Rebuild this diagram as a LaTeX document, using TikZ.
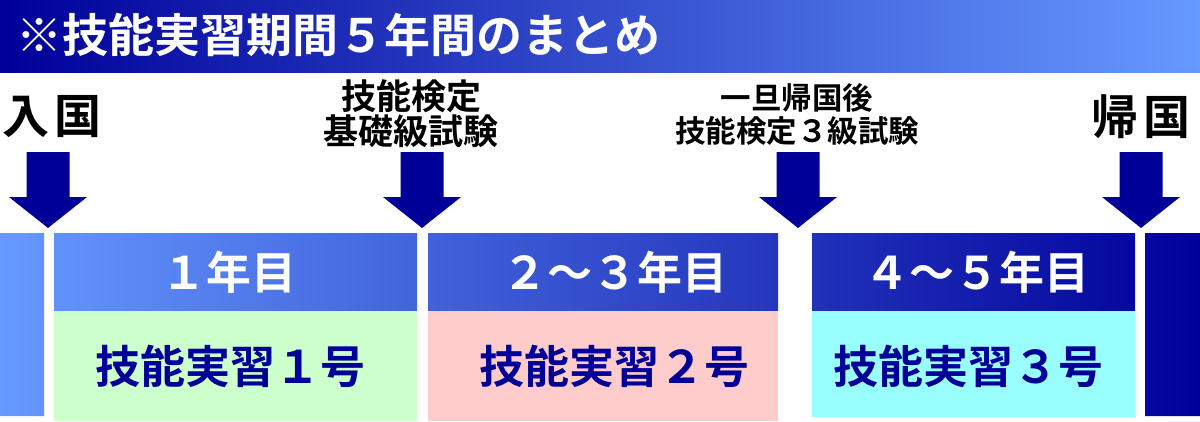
\documentclass[tikz,border=0pt]{standalone}
\usepackage{fontspec}
\newfontfamily\jp{Noto Sans CJK JP}[BoldFont=* Bold]
\usepackage{tikz}
\usetikzlibrary{positioning}
\usetikzlibrary{calc}
\definecolor{navy}{HTML}{000099}
\definecolor{skyb}{HTML}{6699FF}
\definecolor{bd_g}{HTML}{CCFFCC}
\definecolor{bd_r}{HTML}{FFCCCC}
\definecolor{bd_c}{HTML}{99FFFF}
\tikzset{
  jpnode/.style = {align=center, inner sep=0pt, text centered,
    font=\jp\bfseries},
  lbl_t/.style = {jpnode, white, anchor=west,
    font=\jp\bfseries\fontsize{46}{46}\selectfont},% titre
  lbl_p/.style = {jpnode, black,
    font=\jp\bfseries\fontsize{47}{47}\selectfont},% entree, retour
  lbl_e/.style = {jpnode, black,
    font=\jp\bfseries\fontsize{35}{35}\selectfont},% examen
  lbl_f/.style = {jpnode, black,
    font=\jp\bfseries\fontsize{30.5}{33}\selectfont},% examen, petit
  hd_txt/.style = {jpnode, white,
    font=\jp\bfseries\fontsize{45}{45}\selectfont},% annee
  bd_txt/.style = {jpnode, navy,
    font=\jp\bfseries\fontsize{45}{45}\selectfont},% stage
  pics/arw_d/.style = {code={
    \fill[navy] (-21.5,-76) -- (21.5,-76) -- (21.5,-31) -- (39,-31)
      -- (0,0) -- (-39,-31) -- (-21.5,-31) -- cycle;}}
}

\begin{document}
\begin{tikzpicture}[x=1pt,y=-1pt]
\useasboundingbox (0,0) rectangle (1200,421);
% bandeau du titre
\shade[left color=navy, right color=skyb] (0,0) rectangle (1200,72);
\node [lbl_t] (title) at (16,35) {※技能実習期間５年間のまとめ};
% en-tetes
\begin{scope}
\clip (0,233) rectangle (44,416)
      (54,233) rectangle (417,311)
      (428,233) rectangle (778,311)
      (812,233) rectangle (1135,311)
      (1145,233) rectangle (1200,416);
\shade[left color=skyb, right color=navy] (0,233) rectangle (1200,421);
\end{scope}
\fill[bd_g] (54,311) rectangle (417,421);
\fill[bd_r] (428,311) rectangle (778,421);
\fill[bd_c] (812,311) rectangle (1135,417);
\node [hd_txt] (y1) at (229,272) {１年目};
\node [hd_txt] (y2) at (615,272) {２～３年目};
\node [hd_txt] (y3) at (977,272) {４～５年目};
\node [bd_txt] (s1) at (230,366) {技能実習１号};
\node [bd_txt] (s2) at (614,366) {技能実習２号};
\node [bd_txt] (s3) at (968,366) {技能実習３号};
% evenements
\node [lbl_p] (in) at (52,117) {入\kern5pt国};
\node [lbl_e] (ex1) at (411,114) {技能検定\\基礎級試験};
\node [lbl_f] (ex2) at (797,114) {一旦帰国後\\技能検定３級試験};
\node [lbl_p] (out) at (1141,117) {帰\kern5pt国};
\pic (a1) at (48,228) {arw_d};
\pic (a2) at (422,228) {arw_d};
\pic (a3) at (798,228) {arw_d};
\pic (a4) at (1141,228) {arw_d};
\end{tikzpicture}
\end{document}
